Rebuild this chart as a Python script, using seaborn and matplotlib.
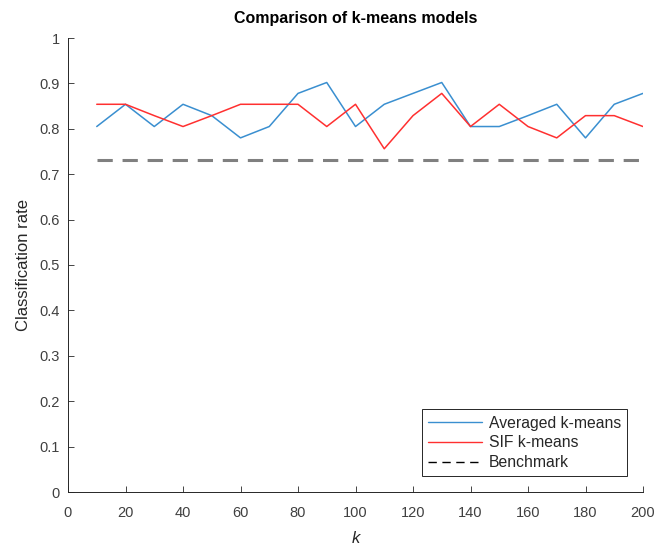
import matplotlib
matplotlib.use("Agg")
import matplotlib.pyplot as plt
import seaborn as sns
import pandas as pd
import numpy as np

k_values = [10, 20, 30, 40, 50, 60, 70, 80, 90, 100, 110, 120, 130, 140, 150, 160, 170, 180, 190, 200]
averaged_kmeans = [0.805, 0.854, 0.805, 0.854, 0.829, 0.780, 0.805, 0.878, 0.902, 0.805,
                   0.854, 0.878, 0.902, 0.805, 0.805, 0.829, 0.854, 0.780, 0.854, 0.878]
sif_kmeans = [0.854, 0.854, 0.829, 0.805, 0.829, 0.854, 0.854, 0.854, 0.805, 0.854,
              0.756, 0.829, 0.878, 0.805, 0.854, 0.805, 0.780, 0.829, 0.829, 0.805]
benchmark = 0.732
series_names = ["Averaged k-means", "SIF k-means", "Benchmark"]

sns.set_style("white")
plt.rcParams['font.family'] = ['Liberation Sans', 'DejaVu Sans']

df = pd.DataFrame({
    "k": k_values * 3,
    "rate": averaged_kmeans + sif_kmeans + [benchmark] * len(k_values),
    "model": [series_names[0]] * 20 + [series_names[1]] * 20 + [series_names[2]] * 20,
})

fig = plt.figure(figsize=(6.57, 5.45), dpi=100)
ax = fig.add_axes([68/657, 1 - 492/545, (643-68)/657, (492-38)/545])

sns.lineplot(data=df[df.model == series_names[0]], x="k", y="rate", color="#3a8fd0", lw=1.1, ax=ax, label=series_names[0])
sns.lineplot(data=df[df.model == series_names[1]], x="k", y="rate", color="#ff3030", lw=1.1, ax=ax, label=series_names[1])
sns.lineplot(data=df[df.model == series_names[2]], x="k", y="rate", color="#808080", lw=2.2, ax=ax,
             label=series_names[2], linestyle=(0, (5, 3.2)))

ax.set_xlim(0, 200)
ax.set_ylim(0, 1)
ax.set_xticks(np.arange(0, 201, 20))
ax.set_yticks(np.arange(0, 1.01, 0.1))
ax.set_yticklabels(["0", "0.1", "0.2", "0.3", "0.4", "0.5", "0.6", "0.7", "0.8", "0.9", "1"])
ax.tick_params(direction="in", length=4, width=0.6, colors="#262626", labelsize=10.5,
               top=False, right=False, bottom=True, left=True, labelcolor="#404040")
ax.tick_params(axis="x", pad=10)
ax.tick_params(axis="y", pad=6)
for name, s in ax.spines.items():
    s.set_color("#262626")
    s.set_linewidth(0.7)
    s.set_visible(name in ("left", "bottom"))

ax.set_xlabel("k", fontsize=12, style="italic", color="#262626", labelpad=8)
ax.set_ylabel("Classification rate", fontsize=12, color="#262626", labelpad=6)
ax.set_title("Comparison of k-means models", fontsize=11.5, fontweight="bold", color="black", pad=11)

leg = ax.legend(loc="lower right", fontsize=11.3, frameon=True, fancybox=False,
                edgecolor="#262626", framealpha=1, borderpad=0.4, handlelength=3.4,
                labelspacing=0.3, borderaxespad=1.0, handletextpad=0.45)
leg.get_frame().set_linewidth(0.7)
handles = leg.legend_handles if hasattr(leg, "legend_handles") else leg.legendHandles
handles[2].set_color("black")
handles[2].set_linewidth(1.0)
handles[2].set_linestyle((0, (6, 4)))
handles[0].set_linewidth(1.0)
handles[1].set_linewidth(1.0)

fig.savefig("out.png", dpi=100, facecolor="white")
